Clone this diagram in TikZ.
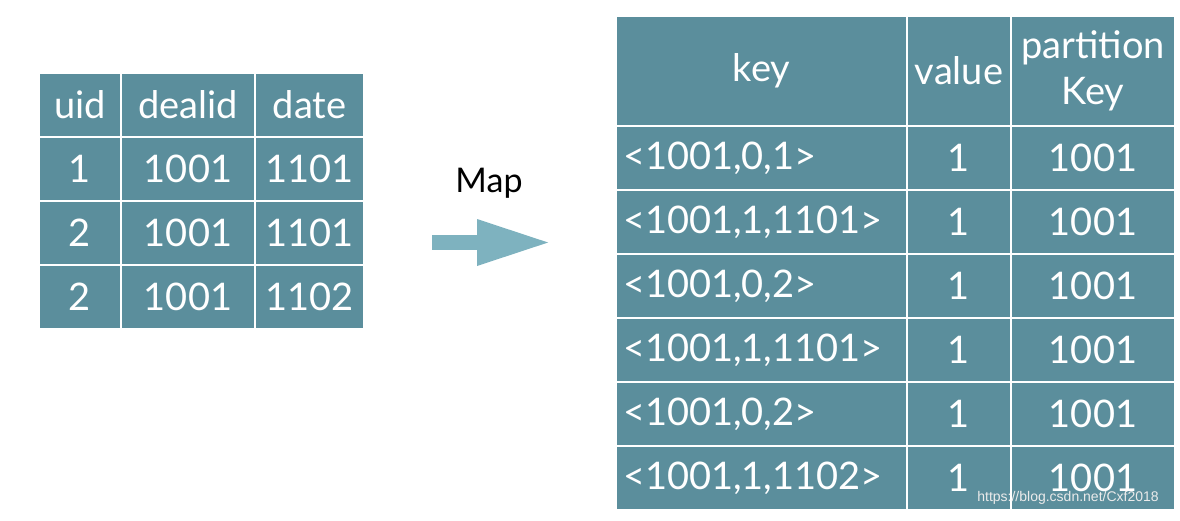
\documentclass[tikz,border=0pt]{standalone}
\usepackage{fontspec}
\setmainfont{Lato}
\newfontfamily\wmfont{Liberation Sans}
\usetikzlibrary{arrows.meta}

\definecolor{cellteal}{RGB}{91,142,156}
\definecolor{arrowteal}{RGB}{126,178,191}

\tikzset{
    cell/.style={anchor=north west, fill=cellteal, draw=white, line width=2pt,
        text=white, inner sep=0pt, font=\fontsize{38}{46}\selectfont},
    keycell/.style={cell, text width=277pt, inner xsep=7pt, align=left},
}

\begin{document}
\begin{tikzpicture}[x=1pt,y=-1pt]
    \useasboundingbox (0,0) rectangle (1180,520);

    % input table
    \node[cell, minimum width=82pt, minimum height=64pt] (uidh) at (38,72) {uid};
    \node[cell, minimum width=134pt, minimum height=64pt] (dealh) at (120,72) {dealid};
    \node[cell, minimum width=109pt, minimum height=64pt] (dateh) at (254,72) {date};

    \node[cell, minimum width=82pt, minimum height=64pt] (uida) at (38,136) {1};
    \node[cell, minimum width=134pt, minimum height=64pt] (deala) at (120,136) {1001};
    \node[cell, minimum width=109pt, minimum height=64pt] (datea) at (254,136) {1101};

    \node[cell, minimum width=82pt, minimum height=64pt] (uidb) at (38,200) {2};
    \node[cell, minimum width=134pt, minimum height=64pt] (dealb) at (120,200) {1001};
    \node[cell, minimum width=109pt, minimum height=64pt] (dateb) at (254,200) {1101};

    \node[cell, minimum width=82pt, minimum height=64pt] (uidc) at (38,264) {2};
    \node[cell, minimum width=134pt, minimum height=64pt] (dealc) at (120,264) {1001};
    \node[cell, minimum width=109pt, minimum height=64pt] (datec) at (254,264) {1102};

    % map step
    \node[font=\fontsize{34}{40}\selectfont] (maplbl) at (489,183) {Map};
    \coordinate (arrowtail) at (432,242.5);
    \coordinate (arrowtip) at (552,242.5);
    \draw[arrowteal, line width=15pt, -{Triangle[length=75pt, width=42pt]}] (arrowtail) -- (arrowtip);

    % output table
    \node[cell, minimum width=291pt, minimum height=110pt] (keyh) at (615,15) {key};
    \node[cell, minimum width=104pt, minimum height=110pt] (valh) at (906,15) {value};
    \node[cell, minimum width=164pt, minimum height=110pt, align=center] (parth) at (1010,15) {partition\\Key};

    \node[keycell, minimum height=64pt] (keya) at (615,125) {<1001,0,1>};
    \node[cell, minimum width=104pt, minimum height=64pt] (vala) at (906,125) {1};
    \node[cell, minimum width=164pt, minimum height=64pt] (parta) at (1010,125) {1001};

    \node[keycell, minimum height=64pt] (keyb) at (615,189) {<1001,1,1101>};
    \node[cell, minimum width=104pt, minimum height=64pt] (valb) at (906,189) {1};
    \node[cell, minimum width=164pt, minimum height=64pt] (partb) at (1010,189) {1001};

    \node[keycell, minimum height=64pt] (keyc) at (615,253) {<1001,0,2>};
    \node[cell, minimum width=104pt, minimum height=64pt] (valc) at (906,253) {1};
    \node[cell, minimum width=164pt, minimum height=64pt] (partc) at (1010,253) {1001};

    \node[keycell, minimum height=64pt] (keyd) at (615,317) {<1001,1,1101>};
    \node[cell, minimum width=104pt, minimum height=64pt] (vald) at (906,317) {1};
    \node[cell, minimum width=164pt, minimum height=64pt] (partd) at (1010,317) {1001};

    \node[keycell, minimum height=64pt] (keye) at (615,381) {<1001,0,2>};
    \node[cell, minimum width=104pt, minimum height=64pt] (vale) at (906,381) {1};
    \node[cell, minimum width=164pt, minimum height=64pt] (parte) at (1010,381) {1001};

    \node[keycell, minimum height=64pt] (keyf) at (615,445) {<1001,1,1102>};
    \node[cell, minimum width=104pt, minimum height=64pt] (valf) at (906,445) {1};
    \node[cell, minimum width=164pt, minimum height=64pt] (partf) at (1010,445) {1001};

    \node[font=\wmfont\fontsize{14}{16}\selectfont, text=white!92!black] (wmark) at (1068,498) {https://blog.csdn.net/Cxf2018};
\end{tikzpicture}
\end{document}
